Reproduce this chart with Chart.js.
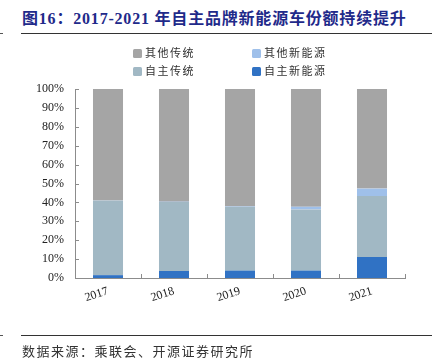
<!DOCTYPE html>
<html>
<head>
<meta charset="utf-8">
<script src="https://cdn.jsdelivr.net/npm/chart.js@4"></script>
<style>
  html, body { margin:0; padding:0; background:#fff; }
  body { width:435px; height:364px; position:relative; overflow:hidden; }
  #title { position:absolute; left:22px; top:5px; font-family:"Liberation Serif","Noto Sans CJK SC",serif; font-weight:bold; font-size:16px; color:#1f2a8a; white-space:nowrap; letter-spacing:0.8px; }
  #title .cjk { font-family:"Noto Sans CJK SC",sans-serif; }
  .rule { position:absolute; left:21px; width:411px; height:1px; background:#333; }
  .stub { position:absolute; left:0; width:3px; height:1px; background:#555; }
  #legend { position:absolute; left:0; top:0; font-family:"Noto Sans CJK SC",sans-serif; font-size:11px; color:#333; }
  .li { position:absolute; white-space:nowrap; letter-spacing:1.5px; line-height:14px; }
  .li span.box { display:inline-block; width:9px; height:9px; border-radius:1.5px; margin-right:3px; vertical-align:-1px; }
  #src { position:absolute; left:22px; top:341px; font-family:"Noto Sans CJK SC",sans-serif; font-size:13px; color:#333; letter-spacing:1.5px; white-space:nowrap; }
  #wrap { position:absolute; left:0; top:0; width:435px; height:364px; }
</style>
</head>
<body>
<div id="title"><span class="cjk">图</span>16<span class="cjk">：</span>2017-2021 <span class="cjk">年自主品牌新能源车份额持续提升</span></div>
<div class="rule" style="top:33px"></div>
<div class="stub" style="top:33px"></div>
<div id="wrap"><canvas id="c" width="435" height="364"></canvas></div>
<div id="legend"></div>
<div class="rule" style="top:335px"></div>
<div class="stub" style="top:335px"></div>
<div id="src">数据来源：乘联会、开源证券研究所</div>
<script>
const categories = ["2017", "2018", "2019", "2020", "2021"];
const seriesNames = ["自主新能源", "自主传统", "其他新能源", "其他传统"];
const ownNEV = [1.5, 3.7, 3.9, 3.9, 11.1];
const ownTraditional = [39.4, 36.5, 33.8, 32.4, 32.3];
const otherNEV = [0.1, 0.2, 0.3, 1.4, 3.9];
const otherTraditional = [59.0, 59.6, 62.0, 62.3, 52.7];
const yTicks = [0, 10, 20, 30, 40, 50, 60, 70, 80, 90, 100];
const colors = ["#3072c4", "#a1b8c4", "#9fc0ea", "#a5a5a5"];

const seriesData = [ownNEV, ownTraditional, otherNEV, otherTraditional];
const datasets = seriesNames.map((name, i) => ({
  label: name,
  data: seriesData[i],
  backgroundColor: colors[i],
  borderWidth: 0,
  categoryPercentage: 1.0,
  barPercentage: 0.455
}));

// HTML legend (2x2 grid): 其他传统, 其他新能源 / 自主传统, 自主新能源
const legendOrder = [3, 2, 1, 0];
const legendPos = [[133, 45], [252, 45], [133, 63], [252, 63]];
const legendEl = document.getElementById('legend');
legendOrder.forEach((idx, k) => {
  const d = document.createElement('div');
  d.className = 'li';
  d.style.left = legendPos[k][0] + 'px';
  d.style.top = legendPos[k][1] + 'px';
  d.innerHTML = '<span class="box" style="background:' + colors[idx] + '"></span>' + seriesNames[idx];
  legendEl.appendChild(d);
});

const innerTicks = {
  id: 'innerTicks',
  afterDraw(chart) {
    const { ctx, chartArea } = chart;
    const x = chart.scales.x, y = chart.scales.y;
    ctx.save();
    ctx.strokeStyle = '#8c8c8c';
    ctx.lineWidth = 1;
    yTicks.forEach(v => {
      const py = Math.round(y.getPixelForValue(v)) + 0.5;
      ctx.beginPath();
      ctx.moveTo(chartArea.left, py);
      ctx.lineTo(chartArea.left + 4, py);
      ctx.stroke();
    });
    const step = x.getPixelForValue(1) - x.getPixelForValue(0);
    categories.forEach((c, i) => {
      const px = Math.round(x.getPixelForValue(i) + step / 2) + 0.5;
      ctx.beginPath();
      ctx.moveTo(px, chartArea.bottom);
      ctx.lineTo(px, chartArea.bottom - 4);
      ctx.stroke();
    });
    ctx.restore();
  }
};

new Chart(document.getElementById('c'), {
  type: 'bar',
  data: { labels: categories, datasets },
  options: {
    responsive: false,
    animation: false,
    layout: { padding: { top: 89, right: 30, bottom: 54, left: 0 } },
    plugins: { legend: { display: false }, tooltip: { enabled: false } },
    scales: {
      x: {
        stacked: true,
        grid: { display: false, drawTicks: false },
        border: { display: true, color: '#8c8c8c', width: 1 },
        ticks: {
          font: { family: 'Liberation Serif', size: 12 },
          color: '#222',
          minRotation: 18, maxRotation: 18,
          padding: 6
        },
        afterFit(s) { s.height = 32; }
      },
      y: {
        stacked: true,
        min: 0, max: 100,
        afterBuildTicks(s) { s.ticks = yTicks.map(v => ({ value: v })); },
        grid: { display: false, drawTicks: false },
        border: { display: true, color: '#8c8c8c', width: 1 },
        ticks: {
          font: { family: 'Liberation Serif', size: 12 },
          color: '#222',
          padding: 11,
          callback: v => v + '%'
        },
        afterFit(s) { s.width = 75; }
      }
    }
  },
  plugins: [innerTicks]
});
</script>
</body>
</html>
